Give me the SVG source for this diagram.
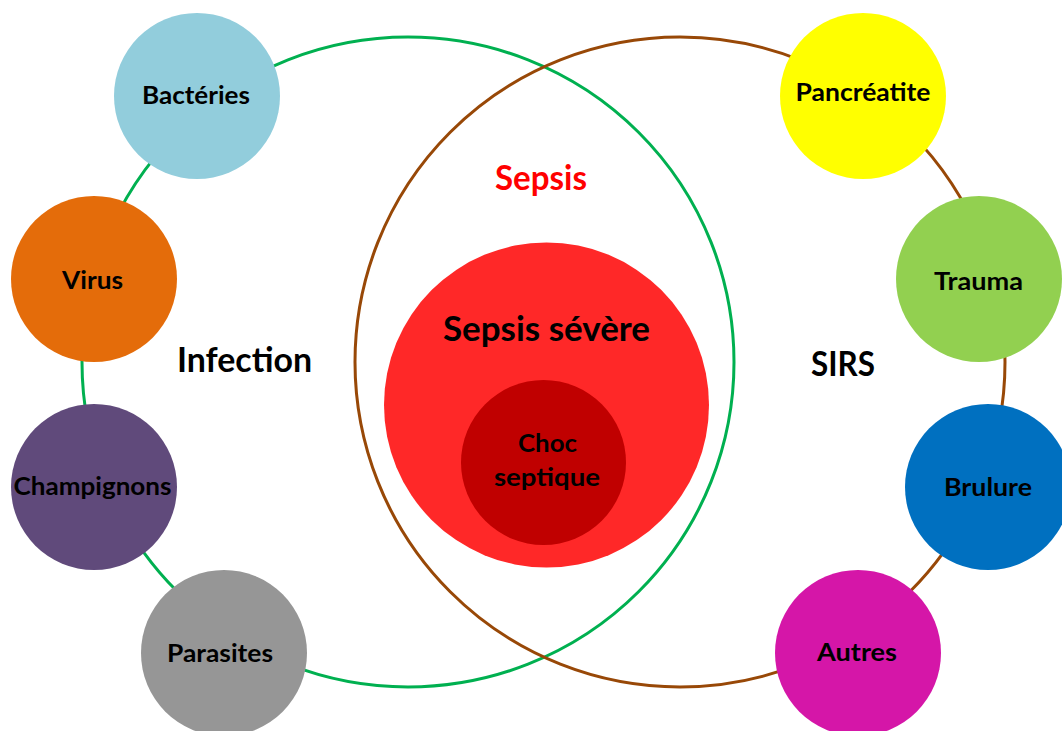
<svg xmlns="http://www.w3.org/2000/svg" width="1062" height="731" viewBox="0 0 1062 731">
<style>
text{font-family:Lato,"Liberation Sans",sans-serif;font-weight:bold;fill:#000;text-anchor:middle}
.lbl{font-size:24px}
.big{font-size:34px}
.ring{fill:none;stroke-width:3}
</style>
<rect width="1062" height="731" fill="#fff"/>
<g id="connectors">
<ellipse id="infection-ring" class="ring" cx="408" cy="362" rx="326" ry="325" stroke="#00B050"/>
<ellipse id="sirs-ring" class="ring" cx="680" cy="362" rx="325" ry="325" stroke="#984807"/>
</g>
<g id="label-infection"><text class="big" x="244.5" y="372" textLength="135" lengthAdjust="spacingAndGlyphs">Infection</text></g>
<g id="label-sirs"><text class="big" x="843" y="376" textLength="64" lengthAdjust="spacingAndGlyphs">SIRS</text></g>
<g id="label-sepsis"><text class="big" x="541" y="190" textLength="92" lengthAdjust="spacingAndGlyphs" style="fill:#FF0000">Sepsis</text></g>
<g id="sepsis-severe">
<circle cx="546.5" cy="405" r="162.5" fill="#FF2828"/>
<text class="big" x="546.5" y="341" textLength="207" lengthAdjust="spacingAndGlyphs">Sepsis sévère</text>
</g>
<g id="choc-septique">
<circle cx="543.5" cy="462.5" r="82.5" fill="#C00000"/>
<text class="lbl" x="547.5" y="452" textLength="59" lengthAdjust="spacingAndGlyphs">Choc</text>
<text class="lbl" x="547" y="486" textLength="106" lengthAdjust="spacingAndGlyphs">septique</text>
</g>
<g id="bacteries"><circle cx="197" cy="96" r="83" fill="#92CDDC"/><text class="lbl" x="196" y="104" textLength="108" lengthAdjust="spacingAndGlyphs">Bactéries</text></g>
<g id="virus"><circle cx="94" cy="279" r="83" fill="#E46C0A"/><text class="lbl" x="92.5" y="289" textLength="61" lengthAdjust="spacingAndGlyphs">Virus</text></g>
<g id="champignons"><circle cx="94" cy="487" r="83" fill="#604A7B"/><text class="lbl" x="92.5" y="495" textLength="158" lengthAdjust="spacingAndGlyphs">Champignons</text></g>
<g id="parasites"><circle cx="224" cy="653" r="83" fill="#969696"/><text class="lbl" x="220" y="662" textLength="106" lengthAdjust="spacingAndGlyphs">Parasites</text></g>
<g id="pancreatite"><circle cx="863" cy="96" r="83" fill="#FFFF00"/><text class="lbl" x="863" y="101" textLength="135" lengthAdjust="spacingAndGlyphs">Pancréatite</text></g>
<g id="trauma"><circle cx="979" cy="279" r="83" fill="#92D050"/><text class="lbl" x="978.5" y="290" textLength="89" lengthAdjust="spacingAndGlyphs">Trauma</text></g>
<g id="brulure"><circle cx="988" cy="487" r="83" fill="#0070C0"/><text class="lbl" x="988" y="496" textLength="88" lengthAdjust="spacingAndGlyphs">Brulure</text></g>
<g id="autres"><circle cx="858" cy="653" r="83" fill="#D516A8"/><text class="lbl" x="857" y="661" textLength="80" lengthAdjust="spacingAndGlyphs">Autres</text></g>
</svg>
